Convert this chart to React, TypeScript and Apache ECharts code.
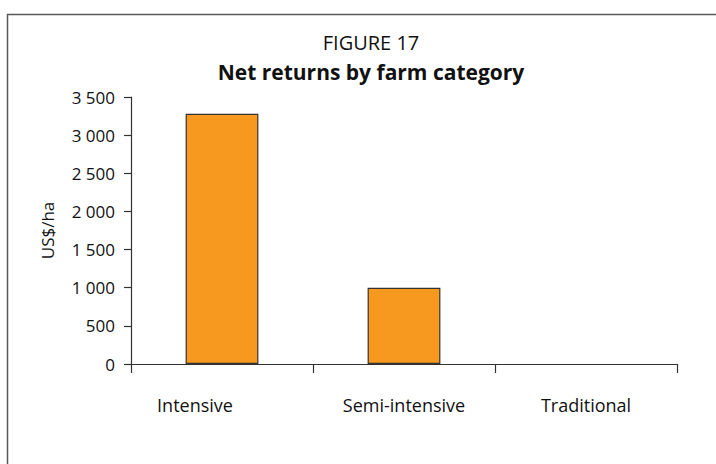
import React, { useEffect, useRef } from "react";
import * as echarts from "echarts";

const categories = ["Intensive", "Semi-intensive", "Traditional"];
const netReturns = [3280, 1000, 0];
const yTicks = [0, 500, 1000, 1500, 2000, 2500, 3000, 3500];
const titleLine1 = "FIGURE 17";
const titleLine2 = "Net returns by farm category";
const yAxisName = "US$/ha";

const fmt = (v: number) => {
  const s = String(Math.round(v));
  return s.length > 3 ? s.slice(0, s.length - 3) + " " + s.slice(-3) : s;
};

export default function App() {
  const ref = useRef<HTMLDivElement>(null);
  useEffect(() => {
    document.body.style.margin = "0";
    const chart = echarts.init(ref.current!, null, { renderer: "svg" });
    const font = "'Open Sans', 'Noto Sans', sans-serif";
    chart.setOption({
      animation: false,
      backgroundColor: "#ffffff",
      graphic: [
        {
          type: "rect",
          shape: { x: 7.5, y: 14.5, width: 730, height: 470 },
          style: { fill: "none", stroke: "#5a5a5a", lineWidth: 1.5 },
          silent: true,
        },
      ],
      title: [
        {
          text: titleLine1,
          left: 366,
          top: 27,
          textAlign: "center",
          textStyle: { fontFamily: font, fontSize: 20, fontWeight: "normal", color: "#111111" },
        },
        {
          text: titleLine2,
          left: 366,
          top: 56,
          textAlign: "center",
          textStyle: { fontFamily: font, fontSize: 21, fontWeight: "bold", color: "#111111" },
        },
      ],
      grid: { left: 131, right: 39, top: 97, bottom: 100, containLabel: false },
      xAxis: {
        type: "category",
        data: categories.map((c, i) =>
          i === 0 ? { value: c, textStyle: { padding: [0, 54, 0, 0] } } : c
        ),
        axisLine: { lineStyle: { color: "#333333", width: 1.2 } },
        axisTick: { show: true, length: 9, inside: false, alignWithLabel: false, lineStyle: { color: "#333333", width: 1.2 } },
        axisLabel: { margin: 32, fontFamily: font, fontSize: 18, color: "#111111" },
      },
      yAxis: {
        type: "value",
        min: yTicks[0],
        max: yTicks[yTicks.length - 1],
        interval: 500,
        name: yAxisName,
        nameLocation: "middle",
        nameGap: 75,
        nameRotate: 90,
        nameTextStyle: { fontFamily: font, fontSize: 17, color: "#111111" },
        splitLine: { show: false },
        axisLine: { show: true, lineStyle: { color: "#333333", width: 1.2 } },
        axisTick: { show: true, length: 7, lineStyle: { color: "#333333", width: 1.2 } },
        axisLabel: {
          margin: 16,
          fontFamily: font,
          fontSize: 17,
          color: "#111111",
          formatter: (v: number) => fmt(v),
        },
      },
      series: [
        {
          type: "bar",
          data: netReturns.map((v) => ({
            value: v,
            itemStyle: v === 0 ? { borderWidth: 0 } : undefined,
          })),
          barWidth: "40%",
          itemStyle: { color: "#F7991E", borderColor: "#333333", borderWidth: 1.2 },
        },
      ],
    });
    return () => chart.dispose();
  }, []);
  return <div ref={ref} style={{ width: 716, height: 464 }} />;
}
